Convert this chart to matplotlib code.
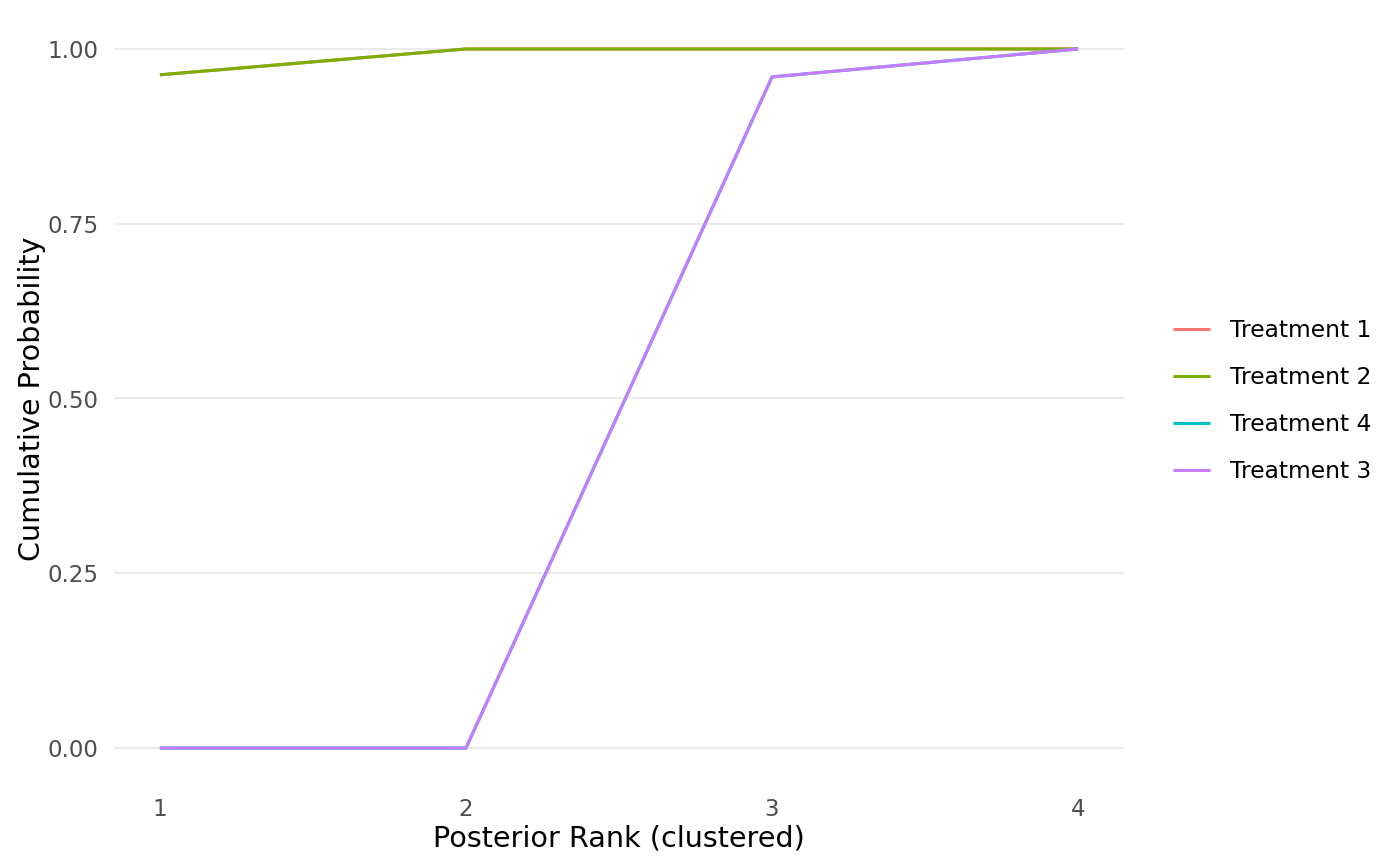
import numpy as np
import matplotlib
matplotlib.use("Agg")
import matplotlib.pyplot as plt

# Cumulative rank probabilities
ranks = [1, 2, 3, 4]
treatments = ["Treatment 1", "Treatment 2", "Treatment 4", "Treatment 3"]
cum_prob = {
    "Treatment 1": [0.963, 1.0, 1.0, 1.0],
    "Treatment 2": [0.963, 1.0, 1.0, 1.0],
    "Treatment 4": [0.0, 0.0, 0.960, 1.0],
    "Treatment 3": [0.0, 0.0, 0.960, 1.0],
}
colors = {
    "Treatment 1": "#F8766D",
    "Treatment 2": "#7CAE00",
    "Treatment 4": "#00BFC4",
    "Treatment 3": "#C77CFF",
}

fig = plt.figure(figsize=(14, 8.66), dpi=100)
ax = fig.add_axes([114 / 1400, 83 / 866, 1010 / 1400, 769 / 866])

for t in treatments:
    ax.plot(ranks, cum_prob[t], color=colors[t], lw=2.2, label=t, solid_capstyle="butt")

ax.set_xlim(0.85, 4.15)
ax.set_ylim(-0.05, 1.05)
ax.set_xticks(ranks)
ax.set_yticks([0, 0.25, 0.5, 0.75, 1.0])
ax.set_yticklabels(["0.00", "0.25", "0.50", "0.75", "1.00"])
ax.grid(axis="y", color="#EBEBEB", lw=1.6)
ax.set_axisbelow(True)
for s in ax.spines.values():
    s.set_visible(False)
ax.tick_params(length=0, labelsize=16.5, labelcolor="#4D4D4D")
ax.tick_params(axis="y", pad=11)
ax.tick_params(axis="x", pad=11)

ax.set_xlabel("Posterior Rank (clustered)", fontsize=20.6, labelpad=2)
ax.set_ylabel("Cumulative Probability", fontsize=20.6, labelpad=1)

fig.legend(loc="center left", bbox_to_anchor=(1152 / 1400, (866 - 401) / 866),
           frameon=False, fontsize=16.8, handlelength=1.6, handletextpad=0.85,
           labelspacing=1.03)

fig.savefig("out.png", dpi=100, facecolor="white")
